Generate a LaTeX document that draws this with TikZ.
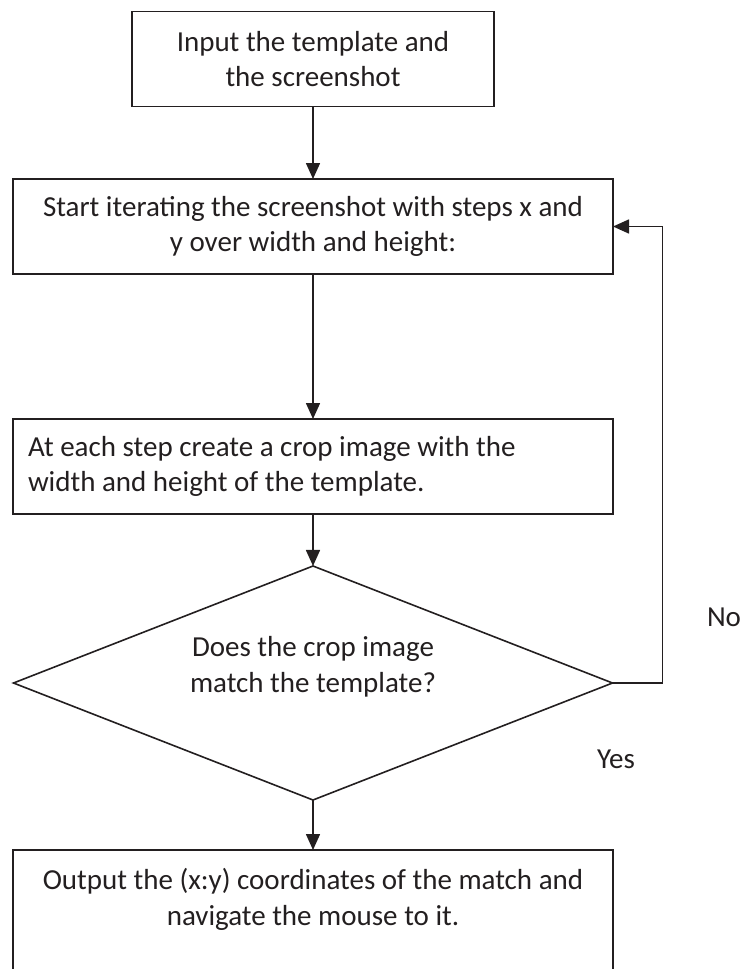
\documentclass[tikz,border=0pt]{standalone}
\usepackage{fontspec}
\setmainfont{Carlito}
\usetikzlibrary{arrows.meta,shapes.geometric,positioning}
\definecolor{inkcol}{HTML}{231F20}
\tikzset{
  box/.style={draw=inkcol,line width=1.6pt,minimum width=600pt,minimum height=95pt,inner sep=0pt,outer sep=0pt},
  txt/.style={text=inkcol,font=\fontsize{29}{35.5}\selectfont,align=center,inner sep=0pt},
  flow/.style={draw=inkcol,line width=1.6pt,-{Triangle[length=16pt,width=14pt]}},
  decision/.style={diamond,draw=inkcol,line width=1.6pt,aspect=2.56,minimum width=599pt,minimum height=234pt,inner sep=0pt,outer sep=0pt},
}

\begin{document}
\begin{tikzpicture}[x=1pt,y=-1pt]
  \useasboundingbox (0,0) rectangle (741,969);
  % steps
  \node[box,txt,minimum width=362pt] (input) at (313,59) {Input the template and\\the screenshot};
  \node[box,txt] (scan) at (313,226.5) {Start iterating the screenshot with steps x and\\y over width and height:};
  \node[box,txt,align=flush left,text width=570pt] (crop) at (313,466.5) {At each step create a crop image with the\\width and height of the template.};
  % decision
  \node[decision] (match) at (313,683) {};
  \node[txt] (matchtxt) at (313,667) {Does the crop image\\match the template?};
  % result, box runs past the bottom edge
  \node[box,minimum height=130pt,anchor=north] (output) at (313,850) {};
  \node[txt] (outtxt) at (313,899.5) {Output the (x:y) coordinates of the match and\\navigate the mouse to it.};
  % arrows
  \draw[flow] (input) -- (scan);
  \draw[flow] (scan) -- (crop);
  \draw[flow] (crop) -- (match);
  \draw[flow] (match) -- (output);
  \draw[flow] (match.east) -- ++(50,0) |- (scan.east);
  \node[txt] (yes) at (616,759) {Yes};
  \node[txt] (no) at (724,617) {No};
\end{tikzpicture}
\end{document}
